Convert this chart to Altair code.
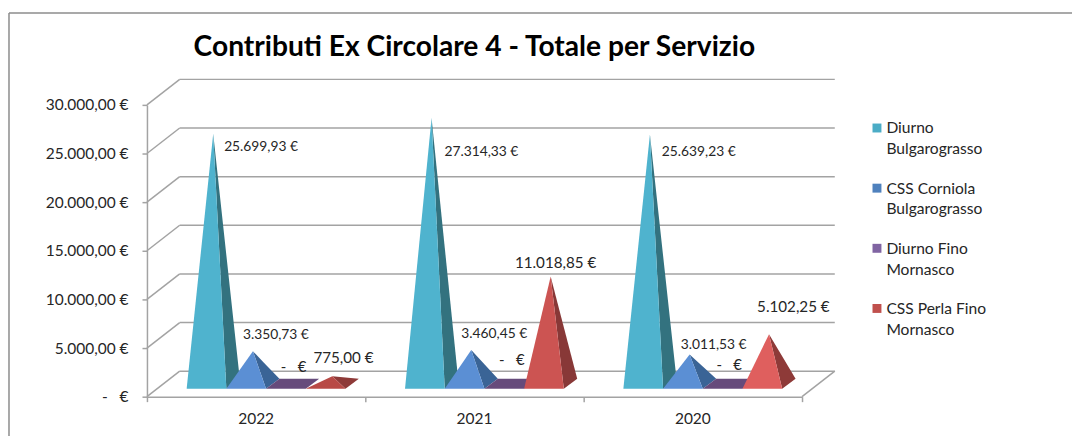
import altair as alt
import pandas as pd

FONT = "Lato"
TITLE = "Contributi Ex Circolare 4 - Totale per Servizio"
YEARS = ["2022", "2021", "2020"]
SERIES = ["Diurno\nBulgarograsso", "CSS Corniola\nBulgarograsso", "Diurno Fino\nMornasco", "CSS Perla Fino\nMornasco"]
DIURNO_BULG = [25699.93, 27314.33, 25639.23]
CSS_CORNIOLA = [3350.73, 3460.45, 3011.53]
DIURNO_FINO = [0.0, 0.0, 0.0]
CSS_PERLA = [775.00, 11018.85, 5102.25]
VALUES = [DIURNO_BULG, CSS_CORNIOLA, DIURNO_FINO, CSS_PERLA]
Y_TICKS = [0, 5000, 10000, 15000, 20000, 25000, 30000]

LEGEND_COLORS = ["#4BACC6", "#4F81BD", "#8064A2", "#C0504D"]
FRONT = [["#4FB3CE"] * 3, ["#5B8FD4"] * 3, ["#664B7B"] * 3, ["#B84A46", "#CC5452", "#DF5F5E"]]
SIDE = [["#33727F"] * 3, ["#3A6496"] * 3, ["#664B7B"] * 3, ["#8E3A38", "#883837", "#8E3A38"]]
# label placement in chart pixels from the apex of each pyramid: (dx to left edge, dy to middle, font size)
SMALL, LARGE = 13.9, 15.3
LABEL_POS = {
    (0, 0): (11, 13, SMALL), (1, 0): (-10, -16, SMALL), (3, 0): (-19, -18, LARGE),
    (0, 1): (13, 34, SMALL), (1, 1): (-10, -16, SMALL), (3, 1): (-36, -14, LARGE),
    (0, 2): (12, 18, SMALL), (1, 2): (-9, -10, SMALL), (3, 2): (-12, -27, LARGE),
}
ZERO_POS = {0: (-12, -17), 1: (-12, -24), 2: (-13, -19)}

PX_X = 220.0            # pixels per category
PX_Y = 294.0 / 30000.0  # pixels per euro
W, H = 660, 294
WALL_DX, WALL_DV = 33 / PX_X, 25.7 / PX_Y
PYR_W = 40 / PX_X
PYR_START = 40 / PX_X
PYR_DX, PYR_DV = 13.5 / PX_X, 10 / PX_Y
PYR_BASE = 8 / PX_Y

GRID = "#A3A3A3"
TEXT = "#262626"
xs = alt.Scale(domain=[0, 3], nice=False, zero=False)
ys = alt.Scale(domain=[0, 30000], nice=False, zero=False)

y_axis = alt.Axis(
    values=Y_TICKS, grid=False, domain=True, domainColor=GRID, domainWidth=1.5, tickColor=GRID, tickWidth=1.5,
    tickSize=5, labelFont=FONT, labelFontSize=15.6, labelColor=TEXT, labelPadding=14,
    labelExpr="datum.value == 0 ? '-\u00a0\u00a0\u00a0€' : replace(replace(replace(format(datum.value, ',.2f'), ',', '#'), '.', ','), '#', '.') + ' €'",
)
x_axis = alt.Axis(
    values=[0, 1, 2, 3], grid=False, domain=True, domainColor=GRID, domainWidth=1.5, tickColor=GRID, tickWidth=1.5,
    tickSize=5, labels=False,
)


def X(name):
    return alt.X(name + ":Q", scale=xs, axis=x_axis, title=None)


def Y(name):
    return alt.Y(name + ":Q", scale=ys, axis=y_axis, title=None)


def eur(v):
    if v == 0:
        return "-\u00a0\u00a0\u00a0€"
    s = f"{v:,.2f}".replace(",", "#").replace(".", ",").replace("#", ".")
    return s + " €"


def area(rows, color):
    df = pd.DataFrame(rows, columns=["px", "top", "bot"])
    return alt.Chart(df).mark_area(color=color, interpolate="linear", opacity=1).encode(
        x=X("px"), y=Y("top"), y2=alt.Y2("bot:Q")
    )


# walls
grid_df = pd.DataFrame({"v": Y_TICKS})
grid_df["u0"] = WALL_DX
grid_df["u1"] = 3 + WALL_DX
grid_df["b"] = grid_df["v"] + WALL_DV
grid_df["o"] = 0.0
back = alt.Chart(grid_df).mark_rule(color=GRID, strokeWidth=1.5).encode(
    x=X("u0"), x2="u1:Q", y=Y("b"), y2="b:Q"
)
side = alt.Chart(grid_df).mark_rule(color=GRID, strokeWidth=1.5).encode(
    x=X("o"), x2="u0:Q", y=Y("v"), y2="b:Q"
)
floor_df = pd.DataFrame({"a": [3.0], "b": [3 + WALL_DX], "c": [0.0], "d": [WALL_DV]})
floor = alt.Chart(floor_df).mark_rule(color=GRID, strokeWidth=1.5).encode(
    x=X("a"), x2="b:Q", y=Y("c"), y2="d:Q"
)
layers = [back, side, floor]

# pyramids
label_rows = []
for yi, _ in enumerate(YEARS):
    for si, series in enumerate(VALUES):
        v = series[yi]
        x0 = yi + PYR_START + si * PYR_W
        x1 = x0 + PYR_W
        b = PYR_BASE
        ax = x0 + PYR_W / 2 + PYR_DX / 2
        av = b + PYR_DV / 2 + v
        if v == 0:
            layers.append(area([
                (x0, b, b), (x0 + PYR_DX, b + PYR_DV, b),
                (x1, b + PYR_DV, b), (x1 + PYR_DX, b + PYR_DV, b + PYR_DV)], FRONT[si][yi]))
            dx, dy = ZERO_POS[yi]
            size = 15.0
        else:
            rx, rv = x1 + PYR_DX, b + PYR_DV
            t = (x1 - ax) / (rx - ax)
            layers.append(area([(ax, av, av), (x1, av + (rv - av) * t, b), (rx, rv, rv)], SIDE[si][yi]))
            layers.append(area([(x0, b, b), (ax, av, b), (x1, b, b)], FRONT[si][yi]))
            dx, dy, size = LABEL_POS[(si, yi)]
        label_rows.append(dict(lx=ax + dx / PX_X, ly=av - dy / PX_Y, text=eur(v), size=size))

lab = pd.DataFrame(label_rows)
layers.append(alt.Chart(lab).mark_text(align="left", baseline="middle", font=FONT, color=TEXT).encode(
    x=X("lx"), y=Y("ly"), text="text:N", size=alt.Size("size:Q", scale=None, legend=None)
))

# category labels
cat = pd.DataFrame({"cx": [0.5 + i for i in range(3)], "cy": [0] * 3, "t": YEARS})
layers.append(alt.Chart(cat).mark_text(baseline="middle", font=FONT, fontSize=15.6, color=TEXT, dy=22.5).encode(
    x=X("cx"), y=Y("cy"), text="t:N"
))

# legend
for i, (name, col) in enumerate(zip(SERIES, LEGEND_COLORS)):
    ly = 23.3 + i * 60.6
    one = pd.DataFrame({"t": [name]})
    layers.append(alt.Chart(one).mark_square(size=81, color=col, opacity=1).encode(
        x=alt.value(735.5), y=alt.value(ly)))
    layers.append(alt.Chart(one).mark_text(align="left", baseline="middle", font=FONT, fontSize=15.7, color=TEXT,
                                           lineBreak="\n", lineHeight=21).encode(
        x=alt.value(745), y=alt.value(ly + 0.5), text="t:N"))

# outer border (top and left sides)
one = pd.DataFrame({"t": [TITLE]})
layers.append(alt.Chart(one).mark_rule(color="#8C8C8C", strokeWidth=1.5).encode(
    x=alt.value(-139), x2=alt.value(938), y=alt.value(-92.5)))
layers.append(alt.Chart(one).mark_rule(color="#8C8C8C", strokeWidth=1.5).encode(
    x=alt.value(-139), y=alt.value(-92.5), y2=alt.value(338)))
# title
layers.append(alt.Chart(one).mark_text(align="left", baseline="middle", font=FONT, fontSize=28.4, fontWeight="bold",
                                       color="#000000").encode(
    x=alt.value(47), y=alt.value(-58.5), text="t:N"))

chart = alt.layer(*layers).properties(
    width=W, height=H,
    padding={"left": 140, "top": 96, "right": 272, "bottom": 38},
    autosize=alt.AutoSizeParams(type="none"),
    background="white",
).configure_view(stroke=None)

chart.save("out.html", embed_options={"renderer": "svg", "actions": False})
